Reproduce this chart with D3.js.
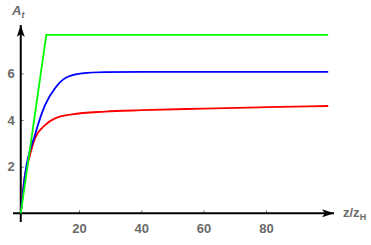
<!DOCTYPE html>
<html>
<head>
<meta charset="utf-8">
<script src="https://cdn.jsdelivr.net/npm/d3@7"></script>
<style>
  body { margin: 0; background: #fff; }
  .tick text { font-family: "Liberation Sans", Arial, sans-serif; font-weight: bold; font-size: 13px; fill: #6a6a6a; }
  .tick line { stroke: #777; stroke-width: 1; }
  .lbl { font-family: "Liberation Sans", Arial, sans-serif; font-weight: bold; fill: #6a6a6a; }
</style>
</head>
<body>
<div id="vis"></div>
<script>
// chart size
const FRAME_WIDTH = 371;
const FRAME_HEIGHT = 245;

// data
const X_TICKS = [20, 40, 60, 80];
const Y_TICKS = [2, 4, 6];

const GREEN_X = [1.3, 9.5, 100];
const GREEN_Y = [0, 7.65, 7.65];

const BLUE_X = [1.3, 2.66, 5.87, 9.09, 12.3, 15.5, 20.9, 28.3, 40, 60, 80, 100];
const BLUE_Y = [0, 1.64, 3.36, 4.64, 5.36, 5.79, 6.0, 6.05, 6.06, 6.06, 6.06, 6.06];

const RED_X = [1.3, 2.66, 3.3, 5.87, 9.09, 12.3, 17.7, 28.3, 40, 60, 80, 100];
const RED_Y = [0, 1.64, 2.0, 3.21, 3.78, 4.07, 4.24, 4.36, 4.42, 4.49, 4.55, 4.6];

const AXIS_X = 1.3; // where the vertical axis crosses

const svg = d3.select("#vis")
              .append("svg")
              .attr("width", FRAME_WIDTH)
              .attr("height", FRAME_HEIGHT);

// scales
const X_SCALE = d3.scaleLinear().domain([0, 100]).range([16.7, 328.2]);
const Y_SCALE = d3.scaleLinear().domain([0, 8]).range([213.3, 26.7]);

// arrow heads
const defs = svg.append("defs");
defs.append("marker")
    .attr("id", "arrow")
    .attr("viewBox", "0 0 12 8")
    .attr("refX", 12).attr("refY", 4)
    .attr("markerWidth", 12).attr("markerHeight", 8)
    .attr("markerUnits", "userSpaceOnUse")
    .attr("orient", "auto")
  .append("path")
    .attr("d", "M0,0 L12,4 L0,8 L3,4 Z")
    .attr("fill", "#000");

// x axis ticks + labels
svg.append("g")
   .attr("transform", "translate(0," + Y_SCALE(0) + ")")
   .call(d3.axisBottom(X_SCALE).tickValues(X_TICKS).tickSizeInner(-3).tickSizeOuter(0).tickPadding(10))
   .call(g => g.select(".domain").remove());

// y axis ticks + labels
svg.append("g")
   .attr("transform", "translate(" + X_SCALE(AXIS_X) + ",0)")
   .call(d3.axisLeft(Y_SCALE).tickValues(Y_TICKS).tickSizeInner(-3).tickSizeOuter(0).tickPadding(6))
   .call(g => g.select(".domain").remove());

// axis lines
svg.append("line")
   .attr("x1", 13).attr("x2", 334)
   .attr("y1", Y_SCALE(0)).attr("y2", Y_SCALE(0))
   .attr("stroke", "#000").attr("stroke-width", 2)
   .attr("marker-end", "url(#arrow)");
svg.append("line")
   .attr("x1", X_SCALE(AXIS_X)).attr("x2", X_SCALE(AXIS_X))
   .attr("y1", 222).attr("y2", 25)
   .attr("stroke", "#000").attr("stroke-width", 2)
   .attr("marker-end", "url(#arrow)");

// curves
const line = d3.line()
               .x((d) => X_SCALE(d[0]))
               .y((d) => Y_SCALE(d[1]));

function draw(xs, ys, color, curve) {
  svg.append("path")
     .datum(d3.zip(xs, ys))
     .attr("d", line.curve(curve))
     .attr("fill", "none")
     .attr("stroke", color)
     .attr("stroke-width", 1.8);
}
draw(RED_X, RED_Y, "#ff0000", d3.curveMonotoneX);
draw(BLUE_X, BLUE_Y, "#0000ff", d3.curveMonotoneX);
draw(GREEN_X, GREEN_Y, "#00ff00", d3.curveLinear);

// axis labels
const yl = svg.append("text").attr("class", "lbl").attr("x", 12).attr("y", 15).attr("font-size", 13);
yl.append("tspan").attr("font-style", "italic").text("A");
yl.append("tspan").attr("font-style", "italic").attr("font-size", 9).attr("dy", 3).text("t");

const xl = svg.append("text").attr("class", "lbl").attr("x", 343).attr("y", 217).attr("font-size", 13);
xl.append("tspan").text("z/z");
xl.append("tspan").attr("font-size", 9).attr("dy", 3).text("H");
</script>
</body>
</html>
